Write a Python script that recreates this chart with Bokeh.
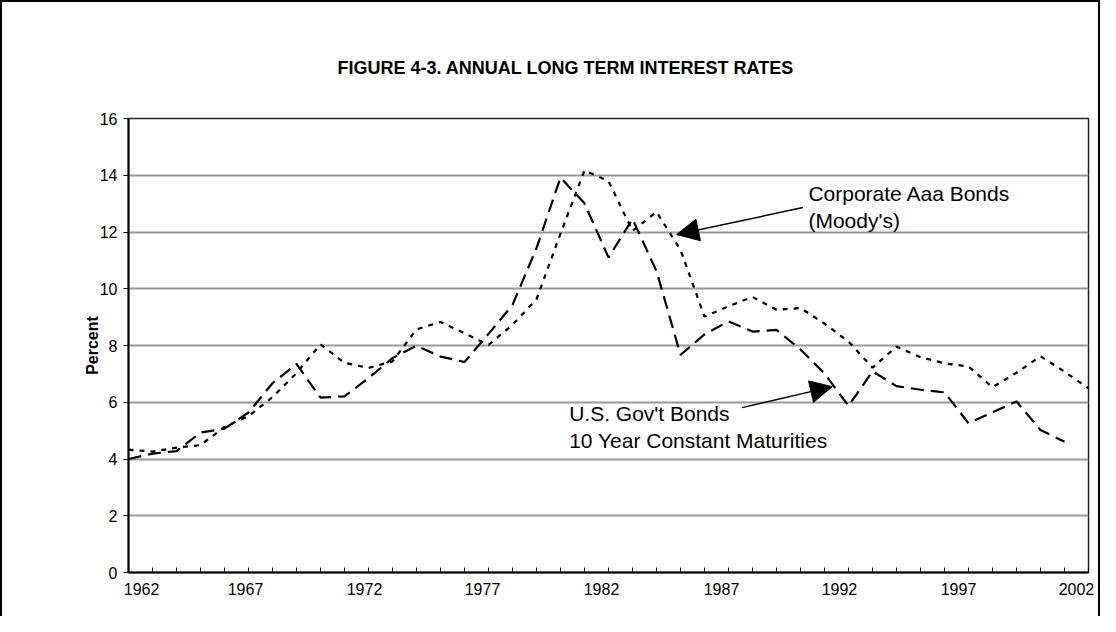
from bokeh.plotting import figure
from bokeh.models import Range1d, FixedTicker, Label, Arrow, NormalHead
from bokeh.embed import file_html
from bokeh.resources import INLINE

# ---- data -------------------------------------------------------------
years = list(range(1962, 2003))
tick_years = [1962, 1967, 1972, 1977, 1982, 1987, 1992, 1997, 2002]
tick_labels = [str(y) for y in tick_years]

# Corporate Aaa Bonds (Moody's) - dotted
aaa = [4.33, 4.26, 4.40, 4.49, 5.13, 5.51, 6.18, 7.03, 8.04, 7.39, 7.21,
       7.44, 8.57, 8.83, 8.43, 8.02, 8.73, 9.63, 11.94, 14.17, 13.79, 12.04,
       12.71, 11.37, 9.02, 9.38, 9.71, 9.26, 9.32, 8.77, 8.14, 7.22, 7.96,
       7.59, 7.37, 7.26, 6.53, 7.04, 7.62, 7.08, 6.49]

# U.S. Gov't Bonds 10 Year Constant Maturities - dashed (40 points as drawn)
gov = [4.00, 4.19, 4.28, 4.93, 5.07, 5.64, 6.67, 7.35, 6.16, 6.21, 6.85,
       7.56, 7.99, 7.61, 7.42, 8.41, 9.43, 11.43, 13.92, 13.01, 11.10, 12.46,
       10.62, 7.67, 8.39, 8.85, 8.49, 8.55, 7.86, 7.01, 5.87, 7.09, 6.57,
       6.44, 6.35, 5.26, 5.65, 6.03, 5.02, 4.61]

FONT = "Liberation Sans"
# horizontal pixel nudges of the category labels (layout only)
label_nudge = [13, -3, -4, -6, -7, -7, -9, -10, -12]
PX_PER_YEAR = 958.4 / 40.0

label_pos = [round(y + dx / PX_PER_YEAR, 3) for y, dx in zip(tick_years, label_nudge)]

p = figure(width=1100, height=616, output_backend="svg", toolbar_location=None,
           x_range=Range1d(years[0], years[-1]), y_range=Range1d(0, 16),
           min_border_left=128, min_border_right=12, min_border_top=118,
           min_border_bottom=44)
p.styles = {"box-shadow": "inset 2px 2px 0 0 #000000, inset -2px 0 0 0 #000000"}
p.border_fill_color = None
p.background_fill_color = None

p.title.text = "FIGURE 4-3. ANNUAL LONG TERM INTEREST RATES"
p.title.text_font = FONT
p.title.text_font_size = "18px"
p.title.text_font_style = "bold"
p.title.text_color = "black"
p.title.align = "left"
p.title.offset = 209
p.title.standoff = 82

p.outline_line_color = "#222222"
p.outline_line_width = 1.5

# grid
p.xgrid.visible = False
p.ygrid.grid_line_color = "#999999"
p.ygrid.grid_line_width = 2

# y axis
p.yaxis.ticker = FixedTicker(ticks=list(range(0, 17, 2)))
p.yaxis.axis_line_width = 2
p.yaxis.axis_line_color = "black"
p.yaxis.major_tick_out = 5
p.yaxis.major_tick_in = 0
p.yaxis.major_tick_line_color = "black"
p.yaxis.minor_tick_line_color = None
p.yaxis.major_label_text_font = FONT
p.yaxis.major_label_text_font_size = "16px"
p.yaxis.major_label_text_color = "black"
p.yaxis.major_label_standoff = 6
p.yaxis.axis_label = "Percent"
p.yaxis.axis_label_text_font = FONT
p.yaxis.axis_label_text_font_size = "16px"
p.yaxis.axis_label_text_font_style = "bold"
p.yaxis.axis_label_text_color = "black"
p.yaxis.axis_label_standoff = -4

# x axis: yearly tick marks inside, category labels
p.xaxis.ticker = FixedTicker(ticks=label_pos, minor_ticks=years)
p.xaxis.major_label_overrides = {pos: lab for pos, lab in zip(label_pos, tick_labels)}
p.xaxis.axis_line_width = 2
p.xaxis.axis_line_color = "black"
p.xaxis.major_tick_in = 0
p.xaxis.major_tick_out = 0
p.xaxis.major_tick_line_color = None
p.xaxis.minor_tick_in = 5
p.xaxis.minor_tick_out = 0
p.xaxis.minor_tick_line_color = "black"
p.xaxis.major_label_text_font = FONT
p.xaxis.major_label_text_font_size = "16px"
p.xaxis.major_label_text_color = "black"
p.xaxis.major_label_standoff = 10

# series
p.line(years, aaa, line_color="black", line_width=2.2, line_dash="5 6")
p.line(years[:len(gov)], gov, line_color="black", line_width=2.2, line_dash="13 7")

# annotations
for txt, x, y in [("Corporate Aaa Bonds", 1990.33, 13.35),
                  ("(Moody's)", 1990.33, 12.40),
                  ("U.S. Gov't Bonds", 1980.36, 5.60),
                  ("10 Year Constant Maturities", 1980.36, 4.65)]:
    p.add_layout(Label(x=x, y=y, text=txt, text_font=FONT,
                       text_font_size="21px", text_baseline="alphabetic",
                       text_color="black"))

for xs, ys, xe, ye in [(1990.1, 12.86, 1984.84, 11.91),
                       (1987.57, 5.81, 1991.33, 6.55)]:
    p.add_layout(Arrow(x_start=xs, y_start=ys, x_end=xe, y_end=ye,
                       line_width=1.5, line_color="black",
                       end=NormalHead(size=22, fill_color="black",
                                      line_color="black")))

open("out.html", "w").write(file_html(p, INLINE))
